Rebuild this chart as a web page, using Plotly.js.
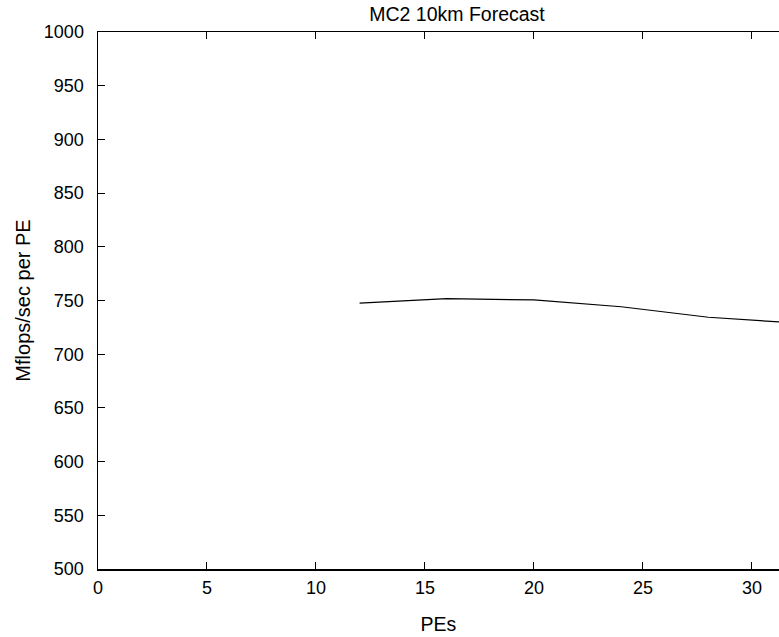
<!DOCTYPE html>
<html>
<head>
<meta charset="utf-8">
<script src="https://cdn.plot.ly/plotly-3.0.1.min.js"></script>
<style>html,body{margin:0;padding:0;background:#fff;}#chart{width:779px;height:637px;}</style>
</head>
<body>
<div id="chart"></div>
<script>
const pes = [12, 16, 20, 24, 28, 32];
const mflops = [747.5, 751.7, 750.5, 744.2, 734.4, 729];
const xTicks = [0, 5, 10, 15, 20, 25, 30];
const yTicks = [500, 550, 600, 650, 700, 750, 800, 850, 900, 950, 1000];

const font = {family: '"Liberation Sans", Arial, sans-serif', color: '#000'};

Plotly.newPlot('chart', [{
  x: pes, y: mflops, type: 'scatter', mode: 'lines',
  line: {color: '#000', width: 1.2}, showlegend: false, cliponaxis: true
}], {
  width: 779, height: 637,
  margin: {l: 98, r: 0, t: 32, b: 68},
  paper_bgcolor: '#fff', plot_bgcolor: '#fff',
  title: {text: 'MC2 10km Forecast', font: Object.assign({size: 19.5}, font),
          x: (457 - 98) / 681, xref: 'paper', xanchor: 'center', y: 1 - 14 / 637, yanchor: 'middle'},
  xaxis: {
    range: [0, 31.24], tickvals: xTicks, ticktext: xTicks.map(String),
    ticks: 'inside', ticklen: 7, tickwidth: 1, tickcolor: '#000',
    showline: true, linecolor: '#000', linewidth: 1.5, mirror: 'ticks',
    showgrid: false, zeroline: false, ticklabelstandoff: 2,
    tickfont: Object.assign({size: 18}, font),
    title: {text: 'PEs', font: Object.assign({size: 19.5}, font), standoff: 20}
  },
  yaxis: {
    range: [500, 1000], tickvals: yTicks, ticktext: yTicks.map(String),
    ticks: 'inside', ticklen: 7, tickwidth: 1, tickcolor: '#000',
    showline: true, linecolor: '#000', linewidth: 1.5, mirror: false,
    showgrid: false, zeroline: false, ticklabelstandoff: 9,
    tickfont: Object.assign({size: 18}, font),
    title: {text: 'Mflops/sec per PE', font: Object.assign({size: 20}, font), standoff: 8}
  }
}, {displayModeBar: false, staticPlot: true});
</script>
</body>
</html>
